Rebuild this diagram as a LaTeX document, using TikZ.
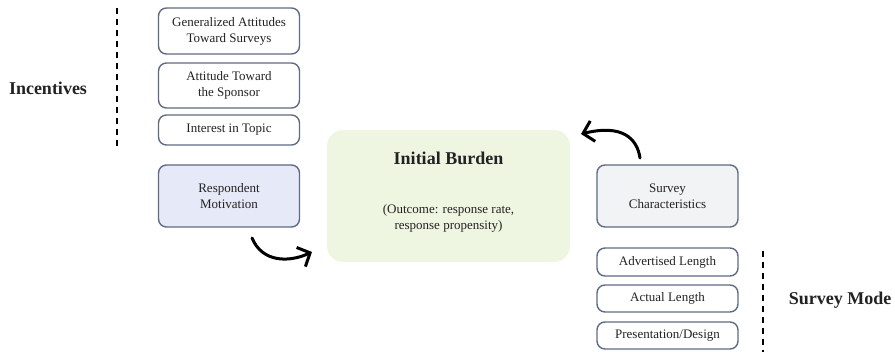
\documentclass[tikz,border=0pt]{standalone}
\usepackage{fontspec}
\setmainfont{Liberation Serif}
\usetikzlibrary{arrows.meta}
\definecolor{boxline}{HTML}{5F6B82}
\definecolor{motivfill}{HTML}{E6E9F7}
\definecolor{surveyfill}{HTML}{F2F3F5}
\definecolor{burdenfill}{HTML}{EEF6E2}
\definecolor{txt}{HTML}{222222}
\begin{document}
\begin{tikzpicture}[x=1pt,y=-1pt,
  box/.style={draw=boxline,line width=1.4pt,rounded corners=8pt,align=center,text=txt,
    font=\fontsize{13}{16}\selectfont,minimum width=141pt,inner sep=0pt},
  header/.style={text=txt,font=\fontsize{18}{21}\selectfont\bfseries},
  sep/.style={line width=2.6pt,dash pattern=on 6pt off 5pt},
  curvy/.style={line width=3pt,line cap=round,-{Straight Barb[length=10pt,width=21pt,line width=3pt]}}]
\useasboundingbox (0,0) rectangle (895,352);
\node[box,minimum height=46pt] (gen) at (229,31) {Generalized Attitudes\\Toward Surveys};
\node[box,minimum height=45pt] (att) at (229,85.5) {Attitude Toward\\the Sponsor};
\node[box,minimum height=30pt] (topic) at (229,130) {Interest in Topic};
\node[box,minimum height=62pt,fill=motivfill] (motiv) at (229,196) {Respondent\\Motivation};
\node[fill=burdenfill,rounded corners=16pt,minimum width=243pt,minimum height=132pt] (burden) at (448.5,196) {};
\node[header] (title) at (448.5,158) {Initial Burden};
\node[text=txt,align=center,font=\fontsize{13}{16}\selectfont] (outcome) at (448.5,218) {(Outcome: response rate,\\response propensity)};
\node[box,minimum height=62pt,fill=surveyfill] (survey) at (667.5,196) {Survey\\Characteristics};
\node[box,minimum height=28pt] (adv) at (667.5,262) {Advertised Length};
\node[box,minimum height=27pt] (actual) at (667.5,298.5) {Actual Length};
\node[box,minimum height=27pt] (pres) at (667.5,335.5) {Presentation/Design};
\node[header] (incent) at (48,88) {Incentives};
\node[header] (mode) at (840,300) {Survey Mode};
\coordinate (lt) at (117,8);
\coordinate (lb) at (117,146);
\coordinate (rt) at (763,251);
\coordinate (rb) at (763,352);
\draw[sep] (lt)--(lb);
\draw[sep] (rt)--(rb);
\coordinate (m1) at (252,238);
\coordinate (b1) at (312,252);
\draw[curvy] (m1) .. controls (262,262) and (288,263) .. (b1);
\coordinate (s1) at (640,158);
\coordinate (b2) at (581,134);
\draw[curvy] (s1) .. controls (637,138) and (622,124) .. (b2);
\end{tikzpicture}
\end{document}
